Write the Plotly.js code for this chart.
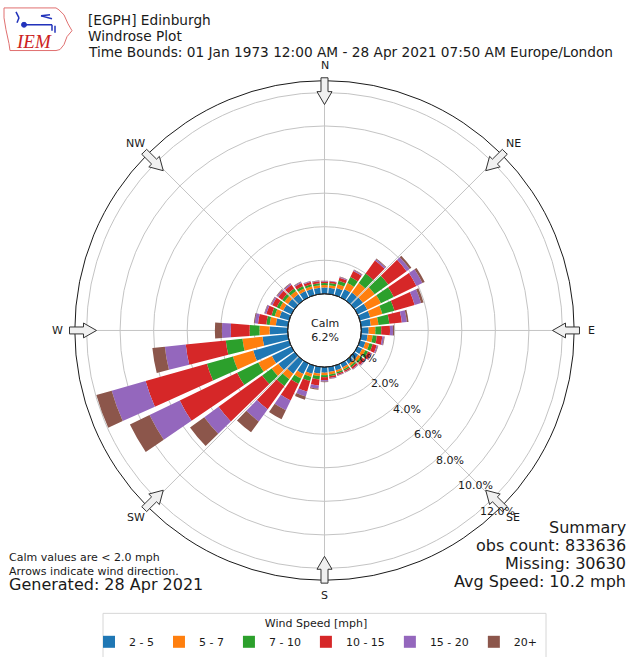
<!DOCTYPE html>
<html>
<head>
<meta charset="utf-8">
<script src="https://cdn.plot.ly/plotly-3.0.1.min.js"></script>
<style>html,body{margin:0;padding:0;background:#fff;}#chart{width:632px;height:657px;}</style>
</head>
<body>
<div id="chart"></div>
<script>
// ---------------- data (percent of observations) ----------------
const DIRS = [0,10,20,30,40,50,60,70,80,90,100,110,120,130,140,150,160,170,
              180,190,200,210,220,230,240,250,260,270,280,290,300,310,320,330,340,350];
const SPEED_BINS = ['2 - 5','5 - 7','7 - 10','10 - 15','15 - 20','20+'];
const S_2_5   = [0.38,0.38,0.45,0.55,0.60,0.64,0.65,0.65,0.59,0.45,0.40,0.35,0.32,0.30,0.28,0.27,0.28,0.30,
                 0.33,0.40,0.50,0.70,1.00,1.20,1.30,2.23,1.53,1.09,0.73,0.60,0.55,0.50,0.48,0.42,0.40,0.38];
const S_5_7   = [0.14,0.15,0.23,0.40,0.70,0.86,0.90,0.75,0.46,0.40,0.30,0.25,0.20,0.17,0.14,0.12,0.12,0.15,
                 0.15,0.15,0.20,0.30,0.40,0.50,0.90,1.26,1.20,0.60,0.37,0.30,0.25,0.25,0.24,0.18,0.15,0.15];
const S_7_10  = [0.12,0.13,0.22,0.40,0.70,1.00,0.85,0.75,0.65,0.35,0.25,0.20,0.18,0.13,0.11,0.09,0.10,0.11,
                 0.12,0.20,0.25,0.35,0.50,0.70,1.40,1.61,1.00,0.59,0.20,0.20,0.18,0.18,0.18,0.16,0.13,0.11];
const S_10_15 = [0.10,0.10,0.18,0.40,0.95,1.35,1.50,1.25,0.75,0.52,0.33,0.25,0.20,0.17,0.12,0.09,0.08,0.10,
                 0.18,0.37,0.65,1.10,1.70,3.20,3.80,3.80,2.40,1.12,0.50,0.32,0.29,0.29,0.28,0.20,0.15,0.12];
const S_15_20 = [0.03,0.03,0.05,0.07,0.10,0.22,0.40,0.40,0.30,0.18,0.10,0.07,0.06,0.05,0.04,0.03,0.03,0.04,
                 0.08,0.18,0.30,0.65,0.90,1.05,2.00,2.10,1.25,0.53,0.20,0.10,0.09,0.09,0.08,0.06,0.05,0.04];
const S_20P   = [0.01,0.01,0.02,0.03,0.05,0.13,0.15,0.15,0.10,0.07,0.04,0.03,0.02,0.02,0.01,0.02,0.02,0.02,
                 0.04,0.07,0.20,0.60,0.80,1.05,1.30,0.95,0.75,0.42,0.05,0.03,0.04,0.04,0.04,0.03,0.02,0.02];
const SERIES = [S_2_5, S_5_7, S_7_10, S_10_15, S_15_20, S_20P];
const COLORS = ['#1f77b4','#ff7f0e','#2ca02c','#d62728','#9467bd','#8c564b'];
const COMPASS_VALS = [0,45,90,135,180,225,270,315];
const COMPASS_TEXT = ['N','NE','E','SE','S','SW','W','NW'];
const RADIAL_TICKS = [0,2,4,6,8,10,12];
const CALM_PCT = 6.2;
const TITLE_LINES = ['[EGPH] Edinburgh','Windrose Plot',
  'Time Bounds: 01 Jan 1973 12:00 AM - 28 Apr 2021 07:50 AM Europe/London'];
const SUMMARY_LINES = ['Summary','obs count: 833636','Missing: 30630','Avg Speed: 10.2 mph'];
const NOTE_LINES = ['Calm values are &lt; 2.0 mph','Arrows indicate wind direction.'];
const GENERATED = 'Generated: 28 Apr 2021';

// ---------------- geometry ----------------
const W = 632, H = 657;
const CX = 324.5, CY = 333.5, R = 252, HOLE = 37, RMAX = 12.7;
const FONT = 'DejaVu Sans, Liberation Sans, sans-serif';
const TXT = '#1a1a1a';
const px = x => x / W;
const py = y => 1 - y / H;
const rPix = v => HOLE + v / RMAX * (R - HOLE);

const traces = SERIES.map((s, i) => ({
  type: 'barpolar',
  theta: DIRS,
  r: s,
  width: 8.4,
  name: SPEED_BINS[i],
  marker: {color: COLORS[i], line: {width: 0}},
  hoverinfo: 'skip'
}));

const annotations = [];
const txt = (x, y, text, size, xa, extra) => annotations.push(Object.assign({xref:'paper', yref:'paper',
  x: px(x), y: py(y), text: text, showarrow:false, xanchor: xa, yanchor:'middle',
  font:{family:FONT, size:size, color:TXT}}, extra || {}));

// center calm text
txt(CX, CY, 'Calm<br>' + CALM_PCT.toFixed(1) + '%', 11, 'center');
// compass labels outside the ring
COMPASS_VALS.forEach((d, i) => {
  const a = d * Math.PI / 180, rl = 267;
  txt(CX + rl * Math.sin(a), CY - rl * Math.cos(a), COMPASS_TEXT[i], 11, 'center');
});
// radial tick labels
const LBL_ANG = 49.5 * Math.PI / 180;
RADIAL_TICKS.forEach(v => {
  const rr = rPix(v);
  txt(CX + rr * Math.cos(LBL_ANG) - 2, CY + rr * Math.sin(LBL_ANG), v.toFixed(1) + '%', 11, 'left');
});
// title lines
const TITLE_Y = [20, 36, 52];
TITLE_LINES.forEach((t, i) => txt(86, TITLE_Y[i], t, 13.7, 'left'));
// summary lines
const SUM_Y = [532, 551, 569, 587];
SUMMARY_LINES.forEach((t, i) => txt(628, SUM_Y[i], t, 16, 'right'));
// notes (two lines in one block)
txt(7, 569.5, NOTE_LINES.join('<br>'), 11, 'left', {align: 'left'});
txt(7, 590, GENERATED, 16, 'left');
// logo text
annotations.push({xref:'paper', yref:'paper', x: px(34), y: py(42), text: '<i>IEM</i>',
  showarrow:false, xanchor:'center', yanchor:'middle', font:{family:'Liberation Serif, serif', size:19, color:'#cc2222'}});

// ---------------- shapes ----------------
const shapes = [];
// inner (calm) circle
shapes.push({type:'circle', xref:'paper', yref:'paper', x0: px(CX - HOLE), x1: px(CX + HOLE),
  y0: py(CY + HOLE), y1: py(CY - HOLE), line:{color:'#222', width:1}, fillcolor:'rgba(0,0,0,0)', layer:'above'});
// block arrows at compass points
function arrowPath(deg) {
  const a = deg * Math.PI / 180;
  const ux = Math.sin(a), uy = -Math.cos(a);   // outward
  const vx = Math.cos(a), vy = Math.sin(a);    // perpendicular
  const pt = (r, w) => [CX + ux * r + vx * w, CY + uy * r + vy * w];
  const pts = [pt(255, -3.5), pt(241, -3.5), pt(241, -7.5), pt(228, 0), pt(241, 7.5), pt(241, 3.5), pt(255, 3.5)];
  return 'M' + pts.map(p => px(p[0]).toFixed(5) + ',' + py(p[1]).toFixed(5)).join(' L') + ' Z';
}
COMPASS_VALS.forEach(d => shapes.push({type:'path', xref:'paper', yref:'paper', path: arrowPath(d),
  fillcolor:'#f0f0f0', line:{color:'#333', width:1}, layer:'above'}));
// legend frame
shapes.push({type:'rect', xref:'paper', yref:'paper', x0:px(103), x1:px(546), y0:py(664), y1:py(619),
  line:{color:'#d6d6d6', width:1}, fillcolor:'rgba(0,0,0,0)', layer:'above'});
// logo outline (Iowa-like shape) and blue mark
const logoPts = [[4,8],[56,8],[59,10],[64,15],[68,24],[72,31],[67,37],[64,45],[60,50],[56,51],[10,51],[9,44],[6,30],[4,18],[4,8]];
shapes.push({type:'path', xref:'paper', yref:'paper',
  path: 'M' + logoPts.map(p => px(p[0]).toFixed(5) + ',' + py(p[1]).toFixed(5)).join(' L') + ' Z',
  line:{color:'#e07070', width:1}, fillcolor:'rgba(0,0,0,0)'});
const blueLines = [[[22,25],[52,25]],[[52,25],[52,31]],[[41,16],[52,19]],[[41,16],[50,15]],
                   [[16,12],[19,18]],[[19,18],[17,23]],[[55,26],[55,33]]];
blueLines.forEach(l => shapes.push({type:'line', xref:'paper', yref:'paper', x0:px(l[0][0]), y0:py(l[0][1]),
  x1:px(l[1][0]), y1:py(l[1][1]), line:{color:'#2233bb', width:1.5}}));
shapes.push({type:'circle', xref:'paper', yref:'paper', x0:px(21.5), x1:px(26.5), y0:py(27.5), y1:py(22.5),
  fillcolor:'#2233bb', line:{color:'#2233bb', width:1}});

const layout = {
  width: W, height: H,
  margin: {l:0, r:0, t:0, b:0},
  paper_bgcolor: '#ffffff',
  font: {family: FONT, size: 11, color: TXT},
  showlegend: true,
  legend: {
    orientation: 'h', x: 0.5, xanchor: 'center', y: py(619), yanchor: 'top',
    title: {text: 'Wind Speed [mph]', side: 'top center', font: {family: FONT, size: 11, color: TXT}},
    font: {family: FONT, size: 11, color: TXT},
    bgcolor: 'rgba(255,255,255,0)', borderwidth: 0, traceorder: 'normal'
  },
  polar: {
    domain: {x: [px(CX - R), px(CX + R)], y: [py(CY + R), py(CY - R)]},
    hole: HOLE / R,
    bgcolor: '#ffffff',
    barmode: 'stack',
    radialaxis: {range: [0, RMAX], tickvals: RADIAL_TICKS, showticklabels: false, ticks: '',
      showline: false, gridcolor: '#c4c4c4', gridwidth: 1},
    angularaxis: {rotation: 90, direction: 'clockwise', tickvals: COMPASS_VALS, ticktext: COMPASS_TEXT,
      showticklabels: false, ticks: '', showgrid: true, gridcolor: '#c4c4c4', gridwidth: 1,
      linecolor: '#1a1a1a', linewidth: 1}
  },
  annotations: annotations,
  shapes: shapes
};

Plotly.newPlot('chart', traces, layout, {staticPlot: true, displayModeBar: false});
</script>
</body>
</html>
